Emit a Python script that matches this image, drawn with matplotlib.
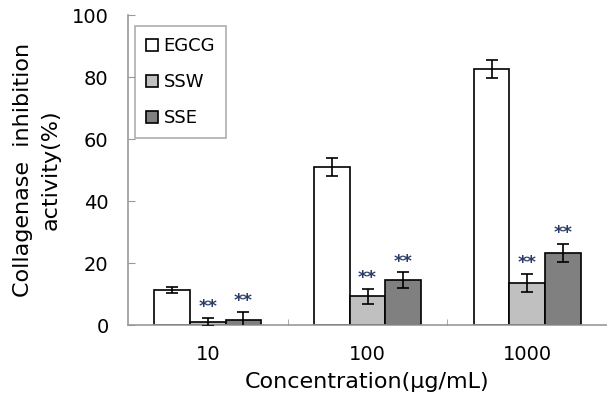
import matplotlib
matplotlib.use("Agg")
import matplotlib.pyplot as plt
import numpy as np

plt.rcParams['font.family'] = ['DejaVu Sans']

conc = ['10', '100', '1000']
egcg = [11.3, 51.0, 82.6]
egcg_err = [1.0, 2.8, 2.8]
ssw = [1.0, 9.3, 13.6]
ssw_err = [1.3, 2.4, 2.9]
sse = [1.7, 14.5, 23.2]
sse_err = [2.5, 2.5, 2.9]
names = ['EGCG', 'SSW', 'SSE']
colors = ['white', '#c0c0c0', '#808080']

fig = plt.figure(figsize=(6.07, 3.95), dpi=100)
ax = fig.add_axes([0.211, 0.177, 0.789, 0.785])

x = np.arange(len(conc))
w = 0.223
series = [(egcg, egcg_err), (ssw, ssw_err), (sse, sse_err)]
for i, (vals, errs) in enumerate(series):
    pos = x + (i - 1) * w
    ax.bar(pos, vals, w, color=colors[i], edgecolor='black', linewidth=1.2,
           label=names[i], zorder=2)
    ax.errorbar(pos, vals, yerr=errs, fmt='none', ecolor='black',
                elinewidth=1.2, capsize=4, capthick=1.2, zorder=3)
    if i > 0:
        for p, v, e in zip(pos, vals, errs):
            ax.text(p, v + e + 0.6, '**', ha='center', va='bottom',
                    fontsize=13, color='#2b3a67', fontweight='bold')

ax.set_xlim(-0.5, 2.5)
ax.set_ylim(0, 100)
ax.set_yticks([0, 20, 40, 60, 80, 100])
ax.set_xticks(x)
ax.set_xticklabels(conc)
ax.set_xticks([0.5, 1.5], minor=True)
ax.tick_params(axis='x', which='major', length=0, pad=14, labelsize=14)
ax.tick_params(axis='x', which='minor', length=4, direction='in', color='#999999')
ax.tick_params(axis='y', length=5, direction='in', color='#999999', labelsize=14, pad=14)

for s in ['top', 'right']:
    ax.spines[s].set_visible(False)
for s in ['left', 'bottom']:
    ax.spines[s].set_color('#999999')
    ax.spines[s].set_linewidth(1.2)

ax.set_ylabel('Collagenase  inhibition\nactivity(%)', fontsize=16, labelpad=8,
              linespacing=1.5)
ax.set_xlabel('Concentration(\u03bcg/mL)', fontsize=16, labelpad=6)

leg = ax.legend(loc='upper left', bbox_to_anchor=(0.014, 0.963), fontsize=13,
                frameon=True, fancybox=False, edgecolor='#999999',
                handlelength=0.7, handleheight=0.7, handletextpad=0.3,
                labelspacing=1.0, borderpad=0.6, borderaxespad=0)
leg.get_frame().set_linewidth(1.2)

fig.savefig('out.png', dpi=100)
